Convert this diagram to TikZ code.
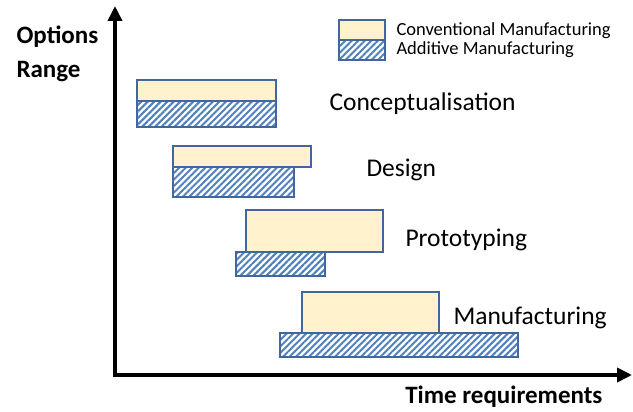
\documentclass[tikz,border=0pt]{standalone}
\usepackage{fontspec}
\setmainfont{Carlito}
\usetikzlibrary{arrows.meta,patterns.meta}
\definecolor{convfill}{HTML}{FFF2CC}
\definecolor{barline}{HTML}{41679E}
\definecolor{hatchblue}{HTML}{4F81BD}
\tikzset{
  conv/.style={draw=barline, line width=1.4pt, fill=convfill, inner sep=0pt, outer sep=0pt, anchor=north west},
  addv/.style={draw=barline, line width=1.4pt, inner sep=0pt, outer sep=0pt, anchor=north west,
    preaction={fill=white},
    pattern={Lines[angle=45,distance=4.6pt,line width=2pt]}, pattern color=hatchblue},
  phase/.style={font=\fontsize{25.5}{28}\selectfont, anchor=west},
  legtext/.style={font=\fontsize{18.5}{20}\selectfont, anchor=west},
  axislabel/.style={font=\bfseries\fontsize{25}{28}\selectfont},
  axis/.style={line width=3.6pt, -{Triangle[length=15pt,width=14pt]}}
}
\begin{document}
\begin{tikzpicture}[x=1pt,y=-1pt]
\useasboundingbox (0,0) rectangle (633,412);
% axes
\coordinate (o) at (115,375);
\coordinate (ytip) at (115,6);
\coordinate (xtip) at (632,375);
\draw[axis] ([yshift=1.8pt]o) -- (ytip);
\draw[axis] ([xshift=-1.8pt]o) -- (xtip);
\node[axislabel, anchor=west] (yl1) at (13,37) {Options};
\node[axislabel, anchor=west] (yl2) at (13,72) {Range};
\node[axislabel, anchor=east] (xl) at (606,397) {Time requirements};
% legend
\node[conv, minimum width=46pt, minimum height=20pt] (lc) at (339,20) {};
\node[addv, minimum width=46pt, minimum height=20pt] (la) at (339,40) {};
\node[legtext] (lct) at (393,31) {Conventional Manufacturing};
\node[legtext] (lat) at (393,50) {Additive Manufacturing};
% conceptualisation
\node[conv, minimum width=139pt, minimum height=21pt] (c1) at (137,80) {};
\node[addv, minimum width=139pt, minimum height=26pt] (a1) at (137,101) {};
\node[phase] (p1) at (326,104) {Conceptualisation};
% design
\node[conv, minimum width=138pt, minimum height=21pt] (c2) at (173,146) {};
\node[addv, minimum width=121pt, minimum height=30pt] (a2) at (173,167) {};
\node[phase] (p2) at (363,170) {Design};
% prototyping
\node[conv, minimum width=137pt, minimum height=42pt] (c3) at (246,210) {};
\node[addv, minimum width=89pt, minimum height=24pt] (a3) at (236,252) {};
\node[phase] (p3) at (402,240) {Prototyping};
% manufacturing
\node[conv, minimum width=137pt, minimum height=41pt] (c4) at (302,292) {};
\node[addv, minimum width=238pt, minimum height=24pt] (a4) at (280,333) {};
\node[phase] (p4) at (450,318) {Manufacturing};
\end{tikzpicture}
\end{document}
